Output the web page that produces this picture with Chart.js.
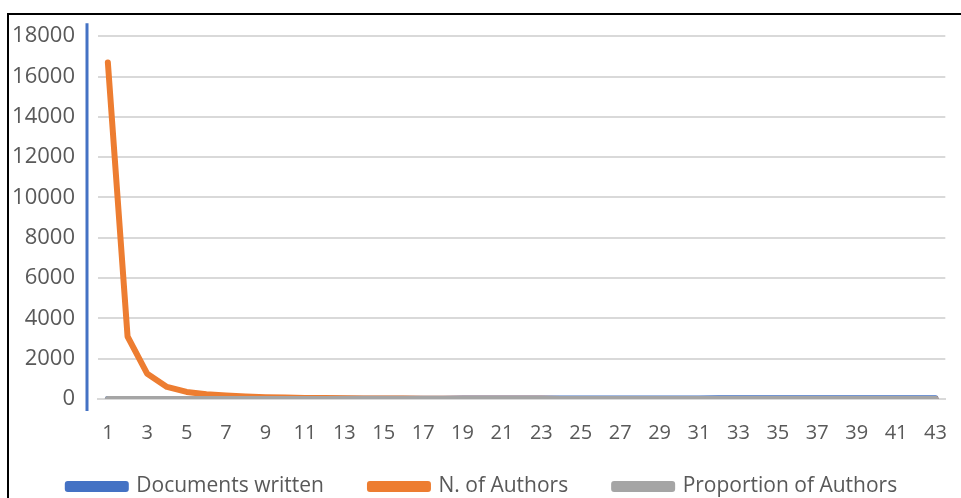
<!DOCTYPE html>
<html>
<head>
<meta charset="utf-8">
<script src="https://cdn.jsdelivr.net/npm/chart.js@4.4.0/dist/chart.umd.min.js"></script>
<style>
  html, body { margin: 0; padding: 0; background: #fff; overflow: hidden; }
  #wrap { position: relative; width: 961px; height: 498px; }
  #frame { position: absolute; left: 7px; top: 13px; width: 952px; height: 500px; border: 2px solid #000; pointer-events: none; }
</style>
</head>
<body>
<div id="wrap">
  <canvas id="docs-chart" width="961" height="498"></canvas>
  <div id="frame"></div>
</div>
<script>
// categories: number of documents written
var docLabels = [];
for (var i = 1; i <= 43; i++) docLabels.push(String(i));

var documentsWritten = [1, 2, 3, 4, 5, 6, 7, 8, 9, 10, 11, 12, 13, 14, 15, 16, 17, 18, 19, 20, 21, 22,
  23, 24, 25, 26, 27, 28, 29, 30, 31, 32, 33, 34, 35, 36, 37, 38, 39, 40, 41, 42, 43];

var nAuthors = [16700, 3100, 1250, 600, 350, 240, 170, 120, 90, 70, 55, 45, 40, 30, 25, 20, 18, 15,
  12, 10, 9, 8, 7, 6, 5, 5, 4, 4, 3, 3, 3, 2, 2, 2, 2, 1, 1, 1, 1, 1, 1, 1, 1];

var proportionAuthors = [0.729, 0.135, 0.055, 0.026, 0.015, 0.010, 0.007, 0.005, 0.004, 0.003, 0.002,
  0.002, 0.002, 0.001, 0.001, 0.001, 0.001, 0.001, 0.001, 0.0004, 0.0004, 0.0003, 0.0003, 0.0003,
  0.0002, 0.0002, 0.0002, 0.0002, 0.0001, 0.0001, 0.0001, 0.0001, 0.0001, 0.0001, 0.0001, 0.0001,
  0.0001, 0.0001, 0.0001, 0.0001, 0.0001, 0.0001, 0.0001];

var yTicks = [0, 2000, 4000, 6000, 8000, 10000, 12000, 14000, 16000, 18000];

var textColor = '#595959';
var fontFamily = '"Open Sans", "Noto Sans", sans-serif';

// blue bar left of the plot (series colour of "Documents written")
var blueAxisLine = {
  id: 'blueAxisLine',
  afterDraw: function (chart) {
    var ctx = chart.ctx, area = chart.chartArea;
    ctx.save();
    ctx.strokeStyle = '#4472C4';
    ctx.lineWidth = 3;
    ctx.beginPath();
    ctx.moveTo(area.left - 11, area.top - 13);
    ctx.lineTo(area.left - 11, area.bottom + 12);
    ctx.stroke();
    ctx.restore();
  }
};

new Chart(document.getElementById('docs-chart'), {
  type: 'line',
  data: {
    labels: docLabels,
    datasets: [{
      label: 'Documents written',
      data: documentsWritten,
      borderColor: '#4472C4',
      backgroundColor: '#4472C4',
      borderWidth: 6,
      order: 3
    }, {
      label: 'N. of Authors',
      data: nAuthors,
      borderColor: '#ED7D31',
      backgroundColor: '#ED7D31',
      borderWidth: 6,
      order: 2
    }, {
      label: 'Proportion of Authors',
      data: proportionAuthors,
      borderColor: '#A5A5A5',
      backgroundColor: '#A5A5A5',
      borderWidth: 6,
      order: 1
    }]
  },
  options: {
    responsive: false,
    animation: false,
    layout: {
      padding: { top: 33, left: 12, right: 8, bottom: -9 }
    },
    elements: {
      line: { tension: 0, borderCapStyle: 'round', borderJoinStyle: 'round' },
      point: { radius: 0, hoverRadius: 0 }
    },
    plugins: {
      tooltip: { enabled: false },
      legend: {
        position: 'bottom',
        labels: {
          color: textColor,
          font: { family: fontFamily, size: 21 },
          boxWidth: 58,
          boxHeight: 5,
          padding: 4,
          sort: function (a, b) { return a.datasetIndex - b.datasetIndex; },
          generateLabels: function (chart) {
            var items = Chart.defaults.plugins.legend.labels.generateLabels(chart);
            items.forEach(function (it) {
              if (it.datasetIndex < 2) it.text = it.text + '\u2003\u2003';
            });
            return items;
          }
        }
      }
    },
    scales: {
      x: {
        offset: true,
        grid: { display: false },
        border: { color: '#D9D9D9', width: 2 },
        afterFit: function (axis) { axis.height += 13; },
        ticks: {
          color: textColor,
          font: { family: fontFamily, size: 20 },
          autoSkip: false,
          maxRotation: 0,
          padding: 14,
          callback: function (value, index) {
            return index % 2 === 0 ? docLabels[index] : '';
          }
        }
      },
      y: {
        min: 0,
        max: 18000,
        afterBuildTicks: function (axis) {
          axis.ticks = yTicks.map(function (v) { return { value: v }; });
        },
        afterFit: function (axis) { axis.width = 86; },
        grid: { color: '#D9D9D9', lineWidth: 2, drawTicks: false },
        border: { display: false },
        ticks: {
          color: textColor,
          font: { family: fontFamily, size: 22 },
          padding: 23,
          callback: function (value) { return String(value); }
        }
      }
    }
  },
  plugins: [blueAxisLine]
});
</script>
</body>
</html>
